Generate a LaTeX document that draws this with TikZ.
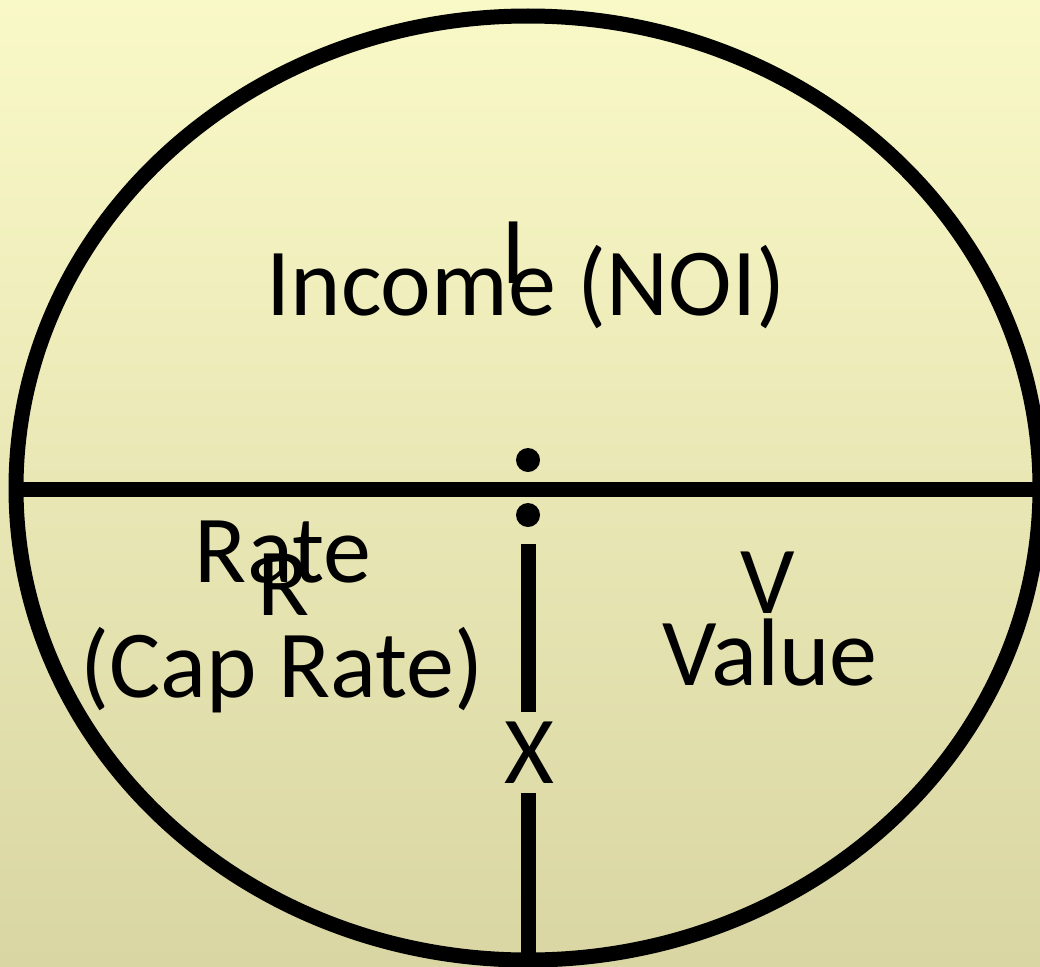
\documentclass[tikz,border=0pt]{standalone}
\usepackage{fontspec}
\setmainfont{Carlito}
\definecolor{bgtop}{RGB}{249,249,199}
\definecolor{bgmid}{RGB}{241,240,190}
\definecolor{bgbot}{RGB}{217,214,163}
\begin{document}
\begin{tikzpicture}[x=1pt,y=-1pt,
  lbl/.style={inner sep=0pt, anchor=base, font=\fontsize{96}{96}\selectfont},
  stroke/.style={line width=15pt, draw=black},
  dotmark/.style={circle, fill=black, inner sep=0pt, minimum size=24pt}]
\shade[top color=bgtop, middle color=bgmid, bottom color=bgbot] (0,0) rectangle (1040,966);
\useasboundingbox (0,0) rectangle (1040,966);
\begin{scope}
  \clip (0,0) rectangle (1040,966);
  \draw[stroke] (528,488) ellipse [x radius=512, y radius=472];
  \coordinate (hl) at (18,489);
  \coordinate (hr) at (1045,489);
  \draw[stroke] (hl) -- (hr);
\end{scope}
\node[dotmark] (d1) at (528,460) {};
\node[dotmark] (d2) at (528,515) {};
\coordinate (vt) at (528,544);
\coordinate (vm) at (528,712);
\coordinate (vn) at (528,793);
\coordinate (vb) at (528,958);
\draw[stroke] (vt) -- (vm);
\draw[stroke] (vn) -- (vb);
\node[lbl] (inc) at (526,315) {Income (NOI)};
\node[lbl] (i) at (514,283) {I};
\node[lbl] (rate) at (283,582) {Rate};
\node[lbl] (r) at (284,615) {R};
\node[lbl] (cap) at (282,697) {(Cap Rate)};
\node[lbl] (v) at (768,613) {V};
\node[lbl] (val) at (770,685) {Value};
\node[lbl] (x) at (529,783) {X};
\end{tikzpicture}
\end{document}
